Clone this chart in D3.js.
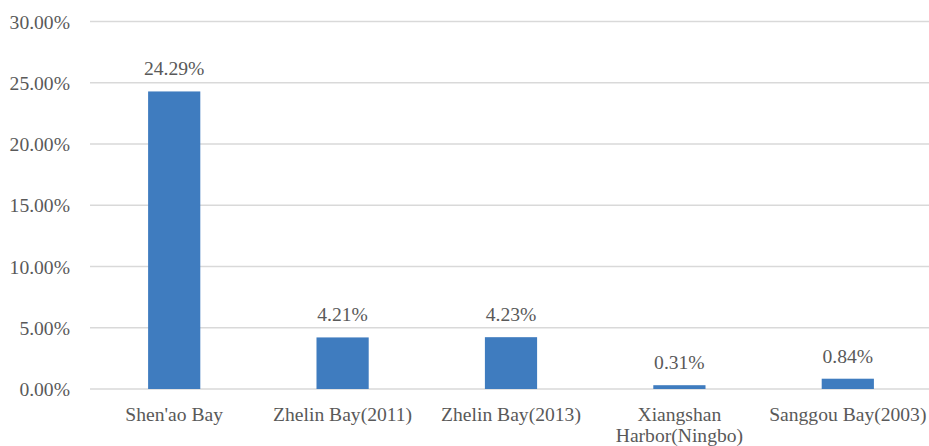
<!DOCTYPE html>
<html>
<head>
<meta charset="utf-8">
<script src="https://cdn.jsdelivr.net/npm/d3@7"></script>
<style>
html,body{margin:0;padding:0;background:#fff;}
svg{display:block;}
</style>
</head>
<body>
<svg id="chart" width="929" height="446"></svg>
<script>
const categories = ["Shen'ao Bay", "Zhelin Bay(2011)", "Zhelin Bay(2013)", "Xiangshan Harbor(Ningbo)", "Sanggou Bay(2003)"];
const categoryLines = [["Shen'ao Bay"], ["Zhelin Bay(2011)"], ["Zhelin Bay(2013)"], ["Xiangshan", "Harbor(Ningbo)"], ["Sanggou Bay(2003)"]];
const values = [24.29, 4.21, 4.23, 0.31, 0.84];
const yTicks = [0, 5, 10, 15, 20, 25, 30];

const FONT = "font-family:'Liberation Serif';font-size:19.6px;fill:#595959";

const svg = d3.select("#chart");
const mLeft = 90, mRight = 932, mTop = 21.5, mBottom = 389;
const x = d3.scaleBand().domain(categories).range([mLeft, mRight]).paddingInner(0.69).paddingOuter(0.345);
const y = d3.scaleLinear().domain([0, 30]).range([mBottom, mTop]);

// gridlines
svg.append("g").selectAll("line").data(yTicks).join("line")
  .attr("x1", mLeft).attr("x2", 929)
  .attr("y1", d => y(d)).attr("y2", d => y(d))
  .attr("stroke", "#d9d9d9").attr("stroke-width", 1.3);

// y axis labels
const yAxis = d3.axisLeft(y).tickValues(yTicks).tickSize(0).tickPadding(0)
  .tickFormat(d => d.toFixed(2) + "%");
const ya = svg.append("g").attr("transform", `translate(70,0)`).call(yAxis);
ya.select(".domain").remove();
ya.selectAll("text").attr("style", FONT).attr("dy", "0.34em");

// bars
svg.append("g").selectAll("rect").data(values).join("rect")
  .attr("x", (d, i) => x(categories[i]))
  .attr("width", x.bandwidth())
  .attr("y", d => y(d))
  .attr("height", d => y(0) - y(d))
  .attr("fill", "#3f7cbf");

// value labels
svg.append("g").selectAll("text").data(values).join("text")
  .attr("x", (d, i) => x(categories[i]) + x.bandwidth() / 2)
  .attr("y", d => y(d) - 16)
  .attr("text-anchor", "middle")
  .attr("style", FONT)
  .text(d => d.toFixed(2) + "%");

// category labels
const cg = svg.append("g").selectAll("text").data(categoryLines).join("text")
  .attr("x", (d, i) => x(categories[i]) + x.bandwidth() / 2)
  .attr("y", 420.5)
  .attr("text-anchor", "middle")
  .attr("style", FONT);
cg.selectAll("tspan").data(d => d).join("tspan")
  .attr("x", function() { return d3.select(this.parentNode).attr("x"); })
  .attr("dy", (d, i) => i === 0 ? 0 : 21.5)
  .text(d => d);
</script>
</body>
</html>
